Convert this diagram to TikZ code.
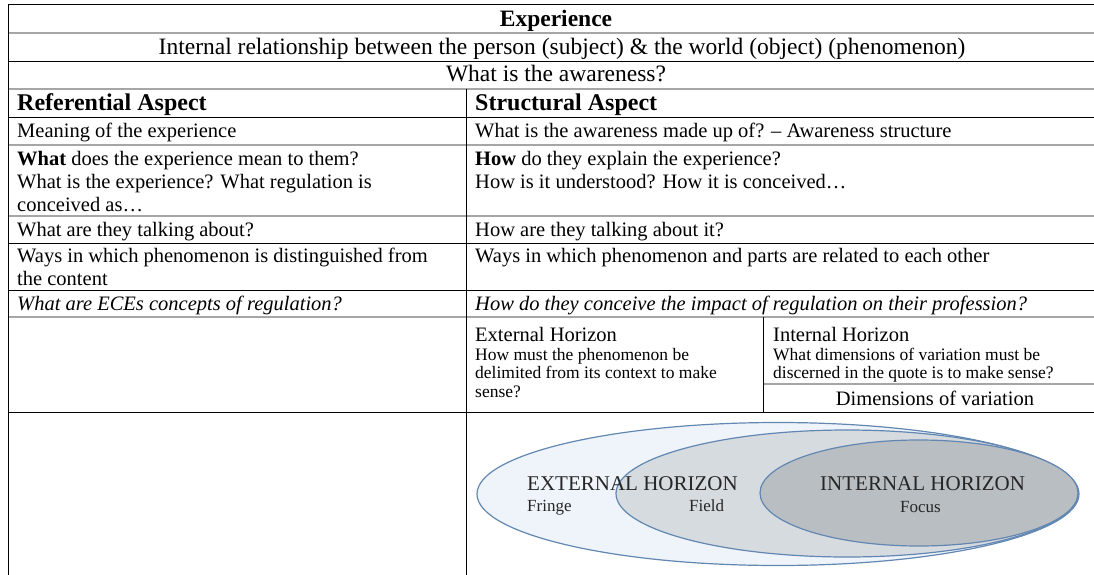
\documentclass[tikz,border=0pt]{standalone}
\usepackage{fontspec}
\setmainfont{Liberation Serif}
\begin{document}
\begin{tikzpicture}[x=1pt,y=-1pt,
  txt/.style={inner sep=0pt, anchor=base west, font=\fontsize{20.5}{23.5}\selectfont},
  top/.style={inner sep=0pt, anchor=base, font=\fontsize{23.5}{27}\selectfont},
  head/.style={inner sep=0pt, anchor=base west, font=\fontsize{24}{28}\selectfont\bfseries},
  small/.style={inner sep=0pt, anchor=base west, font=\fontsize{17.5}{19}\selectfont},
  caps/.style={inner sep=0pt, anchor=base west, font=\fontsize{21}{24}\selectfont, text=black!85},
  sub/.style={inner sep=0pt, anchor=base west, font=\fontsize{17}{20}\selectfont, text=black!85},
  blk/.style={line width=1pt, black},
  gry/.style={line width=1.8pt, gray!70},
  horizon/.style={line width=1.2pt, draw={rgb,255:red,98;green,135;blue,178}},
]
\useasboundingbox (0,0) rectangle (1094,575);

% nested horizons
\filldraw[horizon, fill={rgb,255:red,238;green,244;blue,250}] (778,494) ellipse [x radius=301pt, y radius=71.5pt];
\filldraw[horizon, fill={rgb,255:red,214;green,219;blue,223}] (847,493.5) ellipse [x radius=231pt, y radius=63.5pt];
\filldraw[horizon, fill={rgb,255:red,185;green,190;blue,194}] (919,493) ellipse [x radius=159pt, y radius=53pt];

\node[caps] (exth) at (527,490) {EXTERNAL HORIZON};
\node[sub]  (fringe) at (527,511) {Fringe};
\node[sub]  (field) at (689,511) {Field};
\node[caps] (inth) at (820,490) {INTERNAL HORIZON};
\node[sub]  (focus) at (900,512) {Focus};

% table rules
\draw[blk] (8,5) -- (1094,5);
\draw[gry] (8,33) -- (1094,33);
\draw[blk] (8,62) -- (1094,62);
\draw[gry] (8,89) -- (1094,89);
\draw[blk] (8,118) -- (1094,118);
\draw[gry] (8,145) -- (1094,145);
\draw[gry] (8,216) -- (1094,216);
\draw[blk] (8,243) -- (1094,243);
\draw[blk] (8,290) -- (1094,290);
\draw[gry] (8,317) -- (1094,317);
\draw[gry] (763,384) -- (1094,384);
\draw[blk] (8,412) -- (1094,412);
\draw[blk] (8,5) -- (8,575);
\draw[blk] (466,89) -- (466,575);
\draw[blk] (763,317) -- (763,412);

% header rows
\node[top, font=\fontsize{23.5}{27}\selectfont\bfseries] (exp) at (556,27) {Experience};
\node[top] (rel) at (562,55) {Internal relationship between the person (subject) \& the world (object) (phenomenon)};
\node[top] (aw) at (556,82) {What is the awareness?};
\node[head] (ref) at (17,111) {Referential Aspect};
\node[head] (str) at (475,111) {Structural Aspect};

% left column
\node[txt] (l1) at (17,138) {Meaning of the experience};
\node[txt] (l2a) at (17,165) {\textbf{What} does the experience mean to them?};
\node[txt] (l2b) at (17,188) {What is the experience? What regulation is};
\node[txt] (l2c) at (17,211) {conceived as…};
\node[txt] (l3) at (17,236) {What are they talking about?};
\node[txt] (l4a) at (17,262) {Ways in which phenomenon is distinguished from};
\node[txt] (l4b) at (17,285) {the content};
\node[txt, font=\fontsize{20.5}{23.5}\selectfont\itshape] (l5) at (17,310) {What are ECEs concepts of regulation?};

% right column
\node[txt] (r1) at (475,138) {What is the awareness made up of? – Awareness structure};
\node[txt] (r2a) at (475,165) {\textbf{How} do they explain the experience?};
\node[txt] (r2b) at (475,188) {How is it understood? How it is conceived…};
\node[txt] (r3) at (475,236) {How are they talking about it?};
\node[txt] (r4) at (475,262) {Ways in which phenomenon and parts are related to each other};
\node[txt, font=\fontsize{20.5}{23.5}\selectfont\itshape] (r5) at (475,310) {How do they conceive the impact of regulation on their profession?};

% horizon cells
\node[txt] (ext) at (475,341) {External Horizon};
\node[small] (exta) at (475,360) {How must the phenomenon be};
\node[small] (extb) at (475,378.5) {delimited from its context to make};
\node[small] (extc) at (475,397) {sense?};
\node[txt] (int) at (773,341) {Internal Horizon};
\node[small] (inta) at (773,360) {What dimensions of variation must be};
\node[small] (intb) at (773,378.5) {discerned in the quote is to make sense?};
\node[txt, anchor=base] (dim) at (935,405) {Dimensions of variation};
\end{tikzpicture}
\end{document}
